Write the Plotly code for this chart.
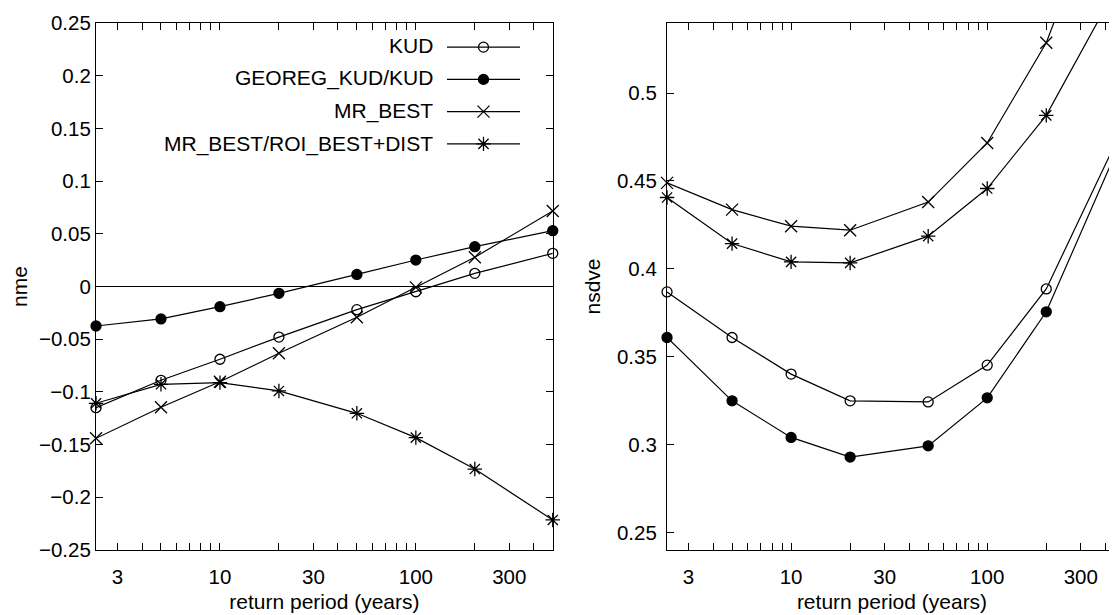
import plotly.graph_objects as go

# ---------------- data ----------------
return_period = [2.33, 5, 10, 20, 50, 100, 200, 500]
series_names = ["KUD", "GEOREG_KUD/KUD", "MR_BEST", "MR_BEST/ROI_BEST+DIST"]

nme_kud = [-0.115, -0.089, -0.069, -0.048, -0.022, -0.005, 0.0125, 0.0315]
nme_georeg = [-0.0375, -0.0308, -0.0191, -0.0065, 0.0115, 0.0251, 0.0378, 0.053]
nme_mr_best = [-0.144, -0.1146, -0.0903, -0.0634, -0.0292, -0.0008, 0.0277, 0.0716]
nme_mr_roi = [-0.1108, -0.0928, -0.0912, -0.0991, -0.1203, -0.1434, -0.1732, -0.2215]

nsdve_kud = [0.3869, 0.361, 0.3402, 0.325, 0.3244, 0.3453, 0.3886, 0.482]
nsdve_georeg = [0.361, 0.325, 0.3042, 0.293, 0.2994, 0.3267, 0.3756, 0.477]
nsdve_mr_best = [0.4489, 0.4337, 0.4243, 0.422, 0.438, 0.4716, 0.5286, 0.645]
nsdve_mr_roi = [0.4406, 0.4144, 0.404, 0.4034, 0.4186, 0.4457, 0.4873, 0.568]

x_tick_vals = [3, 4, 5, 6, 7, 8, 9, 10, 20, 30, 40, 50, 60, 70, 80, 90, 100, 200, 300, 400]
x_tick_text = ["3", "", "", "", "", "", "", "10", "", "30", "", "", "", "", "", "", "100", "", "300", ""]

# ---------------- styling ----------------
OFF = 8                      # default page-body margin of the html page
W, H = 1117 - OFF, 615 - OFF
ML, MR, MT = 96 - OFF, 0, 23 - OFF
MB = H - (550 - OFF)
PW = W - ML - MR
PH = H - MT - MB
FONT = "Liberation Sans, Arial, Helvetica, sans-serif"
FS_TICK = 20.5
FS_TEXT = 21

symbols = ["circle-open", "circle", "x-thin-open", "asterisk-open"]
msizes = [10, 10, 12, 12]

left_vals = [nme_kud, nme_georeg, nme_mr_best, nme_mr_roi]
right_vals = [nsdve_kud, nsdve_georeg, nsdve_mr_best, nsdve_mr_roi]

fig = go.Figure()

for i, name in enumerate(series_names):
    mk = dict(symbol=symbols[i], size=msizes[i], color="black",
              line=dict(color="black", width=1.3))
    fig.add_trace(go.Scatter(
        x=return_period, y=left_vals[i], mode="lines+markers",
        name=" ", legendgroup=str(i), showlegend=True,
        line=dict(color="black", width=1.2), marker=mk,
        cliponaxis=False, xaxis="x", yaxis="y", hovertext=name))
    fig.add_trace(go.Scatter(
        x=return_period, y=right_vals[i], mode="lines+markers",
        name=name, showlegend=False,
        line=dict(color="black", width=1.2), marker=mk,
        cliponaxis=False, xaxis="x2", yaxis="y2"))

# page-pixel geometry of the panels
left_x0_pg, left_x1_pg = 96, 552.8
right_x0_pg = 667
x_lo = 0.3672   # just below log10(2.33)
x_hi = 2.6992   # just above log10(500)

axis_common = dict(
    showline=True, linecolor="black", linewidth=1.2, mirror="ticks",
    ticks="inside", ticklen=7, tickwidth=1.1, tickcolor="black",
    showgrid=False, zeroline=False,
    tickfont=dict(family=FONT, size=FS_TICK, color="black"),
)

fig.update_layout(
    width=W, height=H,
    margin=dict(l=ML, r=MR, t=MT, b=MB, pad=0, autoexpand=False),
    paper_bgcolor="white", plot_bgcolor="white",
    font=dict(family=FONT, size=FS_TICK, color="black"),
    xaxis=dict(axis_common, type="log",
               domain=[0, (left_x1_pg - left_x0_pg) / PW],
               range=[x_lo, x_hi], ticklabelstandoff=8,
               tickvals=x_tick_vals, ticktext=x_tick_text,
               title=dict(text="return period (years)", standoff=7,
                          font=dict(family=FONT, size=FS_TEXT)),
               anchor="y"),
    yaxis=dict(axis_common, range=[-0.25, 0.25], dtick=0.05, tick0=0,
               ticklabelstandoff=0,
               zeroline=True, zerolinecolor="black", zerolinewidth=1.2,
               title=dict(text="nme", standoff=12, font=dict(family=FONT, size=FS_TEXT)),
               anchor="x"),
    xaxis2=dict(axis_common, type="log",
                domain=[(right_x0_pg - left_x0_pg) / PW, 1.0],
                range=[x_lo, 2.699 - 7.3 / 196.0], ticklabelstandoff=8,
                tickvals=x_tick_vals, ticktext=x_tick_text,
                title=dict(text="return period (years)", standoff=7,
                           font=dict(family=FONT, size=FS_TEXT)),
                anchor="y2"),
    yaxis2=dict(axis_common, range=[0.2402, 0.5398], dtick=0.05, tick0=0,
                ticklabelstandoff=5,
                title=dict(text="nsdve", standoff=10, font=dict(family=FONT, size=FS_TEXT)),
                anchor="x2"),
    showlegend=True,
    legend=dict(xref="paper", yref="paper",
                x=(442 - left_x0_pg) / PW, xanchor="left",
                y=(550 - 26) / PH, yanchor="top",
                bgcolor="rgba(0,0,0,0)", borderwidth=0,
                itemwidth=73, tracegroupgap=0,
                font=dict(family=FONT, size=22.5, color="black")),
)

# legend labels (gnuplot style: text to the left of the sample)
label_rows_pg = [45, 77.7, 111, 144.3]
for name, ypg in zip(series_names, label_rows_pg):
    fig.add_annotation(
        xref="paper", yref="paper",
        x=(435 - left_x0_pg) / PW, y=(550 - ypg) / PH,
        xanchor="right", yanchor="middle", showarrow=False,
        text=name, font=dict(family=FONT, size=FS_TEXT, color="black"))

fig.write_html("out.html")
